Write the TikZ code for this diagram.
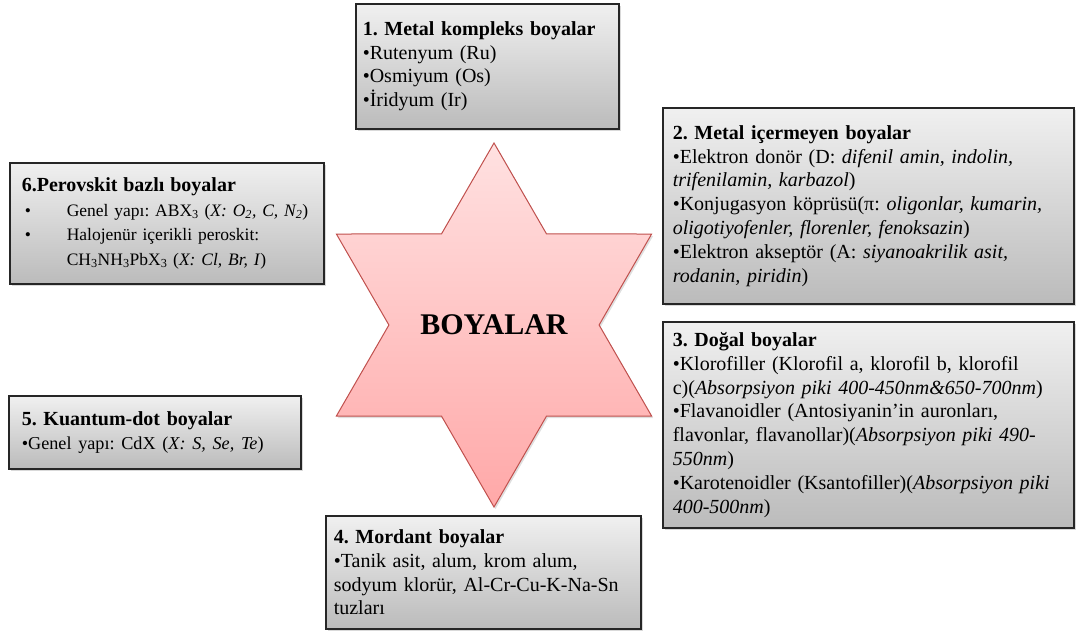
\documentclass[tikz,border=0pt]{standalone}
\usepackage{fontspec}
\setmainfont{Liberation Serif}
\frenchspacing
\usepackage{tikz}
\usetikzlibrary{shapes.geometric, shadows, positioning}
\definecolor{BoxTop}{HTML}{F0F0F0}
\definecolor{BoxBottom}{HTML}{BBBBBB}
\definecolor{BoxLine}{HTML}{262626}
\definecolor{StarTop}{HTML}{FFE1E1}
\definecolor{StarBottom}{HTML}{FFA8A8}
\definecolor{StarLine}{HTML}{C0504D}

\begin{document}
\begin{tikzpicture}[x=1pt, y=-1pt,
  boyabox/.style={draw=BoxLine, line width=1.6pt, top color=BoxTop, bottom color=BoxBottom, anchor=north west, align=left, inner xsep=7pt, inner ysep=0pt,
    drop shadow={shadow xshift=2pt, shadow yshift=-2.5pt, opacity=0.3}, font=\fontsize{20}{23.8}\selectfont},
  yildiz/.style={star, star points=6, star point ratio=1.732, minimum size=364pt, inner sep=0pt, draw=StarLine, line width=1pt, top color=StarTop, bottom color=StarBottom,
    drop shadow={shadow xshift=1.5pt, shadow yshift=-2pt, opacity=0.25}}]
  \useasboundingbox (0,0) rectangle (1076,634);

  % merkez
  \node[yildiz, font=\fontsize{30}{32}\selectfont\bfseries] (boyalar) at (494,325) {BOYALAR};

  % kutular
  \node[boyabox, minimum width=263pt, minimum height=125pt, text width=249pt] (metal) at (355,3) {\textbf{1. Metal kompleks boyalar}\\
    •Rutenyum (Ru)\\
    •Osmiyum (Os)\\
    •İridyum (Ir)};
  \node[boyabox, inner xsep=10pt, minimum width=411pt, minimum height=196pt, text width=391pt] (metalsiz) at (662,107) {\textbf{2. Metal içermeyen boyalar}\\
    •Elektron donör (D: \textit{difenil amin, indolin,}\\
    \textit{trifenilamin, karbazol})\\
    •Konjugasyon köprüsü(π: \textit{oligonlar, kumarin,}\\
    \textit{oligotiyofenler, florenler, fenoksazin})\\
    •Elektron akseptör (A: \textit{siyanoakrilik asit,}\\
    \textit{rodanin, piridin})};
  \node[boyabox, inner xsep=10pt, minimum width=411pt, minimum height=206pt, text width=391pt] (dogal) at (662,321) {\textbf{3. Doğal boyalar}\\
    •Klorofiller  (Klorofil a, klorofil b, klorofil\\
    c)(\textit{Absorpsiyon piki 400-450nm\&650-700nm})\\
    •Flavanoidler (Antosiyanin’in auronları,\\
    flavonlar, flavanollar)(\textit{Absorpsiyon piki 490-}\\
    \textit{550nm})\\
    •Karotenoidler (Ksantofiller)(\textit{Absorpsiyon piki}\\
    \textit{400-500nm})};
  \node[boyabox, inner xsep=8pt, minimum width=315pt, minimum height=113pt, text width=299pt] (mordant) at (325,515) {\textbf{4. Mordant boyalar}\\
    •Tanik asit, alum,  krom alum,\\
    sodyum klorür, Al-Cr-Cu-K-Na-Sn\\
    tuzları};
  \node[boyabox, inner xsep=13pt, minimum width=292pt, minimum height=73pt, text width=266pt] (kuantum) at (8,395) {\textbf{5. Kuantum-dot boyalar}\\
    {\fontsize{18.2}{23.8}\selectfont •Genel yapı: CdX (\textit{X: S, Se, Te})}};
  \node[boyabox, inner xsep=12pt, minimum width=314pt, minimum height=121pt, text width=290pt, font=\fontsize{17.5}{24.5}\selectfont] (perovskit) at (9,162) {{\fontsize{20}{24.5}\selectfont\textbf{6.Perovskit bazlı boyalar}}\\
    \makebox[45pt][l]{\hspace*{3pt}•}Genel yapı:  ABX\textsubscript{3} (\textit{X: O\textsubscript{2}, C, N\textsubscript{2}})\\
    \makebox[45pt][l]{\hspace*{3pt}•}Halojenür içerikli peroskit:\\
    \hspace*{45pt}CH\textsubscript{3}NH\textsubscript{3}PbX\textsubscript{3} (\textit{X: Cl, Br, I})};
\end{tikzpicture}
\end{document}
